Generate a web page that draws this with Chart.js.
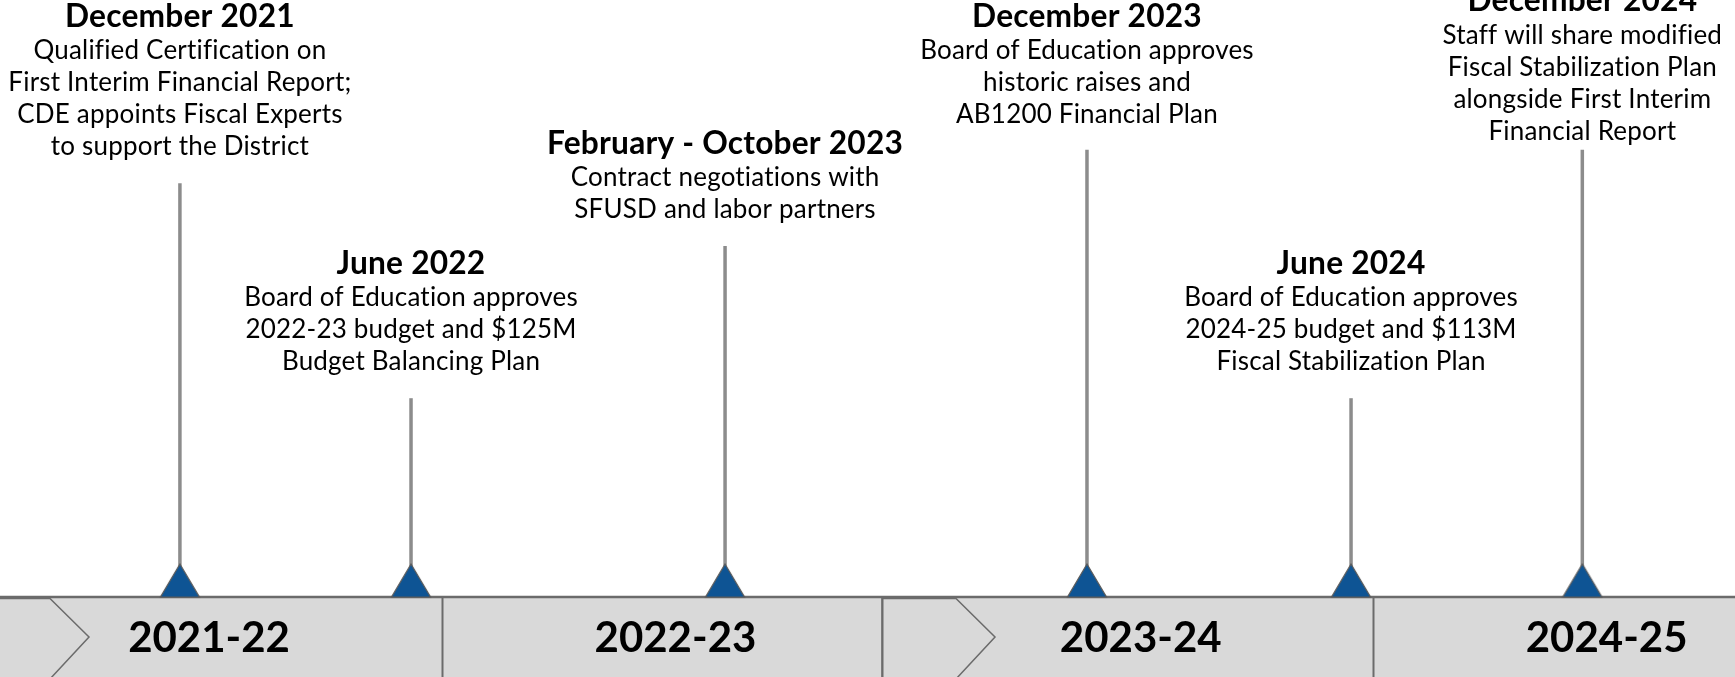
<!DOCTYPE html>
<html>
<head>
<meta charset="utf-8">
<script src="https://cdn.jsdelivr.net/npm/chart.js@4"></script>
<style>
  html, body { margin: 0; padding: 0; background: #fff; }
  #wrap { width: 1735px; height: 677px; }
</style>
</head>
<body>
<div id="wrap"><canvas id="timeline"></canvas></div>
<script>
// milestones: where they sit on the timeline (0-100), stem height and label anchor (y units)
const eventTitles = ['December 2021', 'June 2022', 'February - October 2023', 'December 2023', 'June 2024', 'December 2024'];
const eventTexts = [
  ['Qualified Certification on', 'First Interim Financial Report;', 'CDE appoints Fiscal Experts', 'to support the District'],
  ['Board of Education approves', '2022-23 budget and $125M', 'Budget Balancing Plan'],
  ['Contract negotiations with', 'SFUSD and labor partners'],
  ['Board of Education approves', 'historic raises and', 'AB1200 Financial Plan'],
  ['Board of Education approves', '2024-25 budget and $113M', 'Fiscal Stabilization Plan'],
  ['Staff will share modified', 'Fiscal Stabilization Plan', 'alongside First Interim', 'Financial Report']
];
const eventPos = [10.37, 23.69, 41.79, 62.65, 77.87, 91.2];
const stemHeight = [69.3, 33.3, 58.8, 74.9, 33.3, 74.9];
const labelTop = [97.2, 55.8, 75.9, 97.2, 55.8, 99.8];

// school years in the bottom band
const years = ['2021-22', '2022-23', '2023-24', '2024-25'];
const yearStart = [0, 25.48, 50.84, 79.14];
const yearEnd = [25.48, 50.84, 79.14, 100];
const yearLabelPos = [12.05, 38.93, 65.75, 92.6];
// arrow shapes inside the band (null = none)
const arrowLeft = [-2, null, 50.84, null];
const arrowBase = [2.88, null, 55.1, null];
const arrowTip = [5.13, null, 57.35, null];

const bandDepth = 13.4;

const STEM = '#8c8c8c';
const EDGE = '#6b6b6b';
const BAND = '#d9d9d9';
const BLUE = '#0e5494';

// triangle marker whose base sits on the point
function makeMarker() {
  const c = document.createElement('canvas');
  c.width = 42;
  c.height = 68;
  const g = c.getContext('2d');
  g.beginPath();
  g.moveTo(21, 1);
  g.lineTo(40.5, 34);
  g.lineTo(1.5, 34);
  g.closePath();
  g.fillStyle = BLUE;
  g.fill();
  g.strokeStyle = '#5a5a5a';
  g.lineWidth = 1.2;
  g.stroke();
  return c;
}

const bandPlugin = {
  id: 'band',
  beforeDatasetsDraw(chart) {
    const { ctx, scales: { x, y } } = chart;
    const top = y.getPixelForValue(0);
    const bottom = y.getPixelForValue(-bandDepth);
    const mid = (top + bottom) / 2;
    ctx.save();
    years.forEach((yr, i) => {
      const l = x.getPixelForValue(yearStart[i]);
      const r = x.getPixelForValue(yearEnd[i]);
      ctx.fillStyle = BAND;
      ctx.fillRect(l, top, r - l + 20, bottom - top);
    });
    ctx.strokeStyle = EDGE;
    // arrows
    years.forEach((yr, i) => {
      if (arrowBase[i] === null) return;
      const l = x.getPixelForValue(arrowLeft[i]);
      const b = x.getPixelForValue(arrowBase[i]);
      const t = x.getPixelForValue(arrowTip[i]);
      ctx.lineWidth = 1.5;
      ctx.beginPath();
      ctx.moveTo(l, bottom + 2);
      ctx.lineTo(l, top + 1.5);
      ctx.lineTo(b, top + 1.5);
      ctx.lineTo(t, mid);
      ctx.lineTo(b, bottom + 2);
      ctx.stroke();
    });
    // dividers
    ctx.lineWidth = 2;
    yearStart.slice(1).forEach(v => {
      const px = Math.round(x.getPixelForValue(v)) + 0.5;
      ctx.beginPath();
      ctx.moveTo(px, top);
      ctx.lineTo(px, bottom + 2);
      ctx.stroke();
    });
    // top edge
    ctx.lineWidth = 2.5;
    ctx.beginPath();
    ctx.moveTo(0, top);
    ctx.lineTo(chart.width, top);
    ctx.stroke();
    // year labels
    ctx.fillStyle = '#000';
    ctx.font = 'bold 42px Lato';
    ctx.textAlign = 'center';
    ctx.textBaseline = 'middle';
    years.forEach((yr, i) => {
      ctx.fillText(yr, x.getPixelForValue(yearLabelPos[i]), mid + 1);
    });
    ctx.restore();
  },
  afterDatasetsDraw(chart) {
    const { ctx, scales: { x, y } } = chart;
    ctx.save();
    ctx.fillStyle = '#000';
    ctx.textAlign = 'center';
    ctx.textBaseline = 'middle';
    ctx.letterSpacing = '0.2px'; // also keeps Lato from using fi / ti ligatures
    eventTitles.forEach((t, i) => {
      const cx = x.getPixelForValue(eventPos[i]);
      const ty = y.getPixelForValue(labelTop[i]);
      ctx.font = 'bold 31.7px Lato';
      ctx.fillText(t, cx, ty);
      ctx.font = '26px Lato';
      eventTexts[i].forEach((line, j) => {
        ctx.fillText(line, cx, ty + 34 + j * 32);
      });
    });
    ctx.restore();
  }
};

const stemSets = eventPos.map((p, i) => ({
  data: [{ x: p, y: 0 }, { x: p, y: stemHeight[i] }],
  showLine: true,
  borderColor: STEM,
  borderWidth: 3.5,
  pointRadius: 0,
  order: 2
}));

new Chart(document.getElementById('timeline'), {
  type: 'scatter',
  data: {
    datasets: [
      {
        data: eventPos.map(p => ({ x: p, y: 0 })),
        pointStyle: makeMarker(),
        pointRadius: 20,
        order: 1
      },
      ...stemSets
    ]
  },
  options: {
    responsive: true,
    maintainAspectRatio: false,
    animation: false,
    layout: { padding: 0, autoPadding: false },
    scales: {
      x: { type: 'linear', min: 0, max: 100, display: false },
      y: { type: 'linear', min: -bandDepth, max: 100, display: false }
    },
    plugins: {
      legend: { display: false },
      tooltip: { enabled: false }
    }
  },
  plugins: [bandPlugin]
});
</script>
</body>
</html>
